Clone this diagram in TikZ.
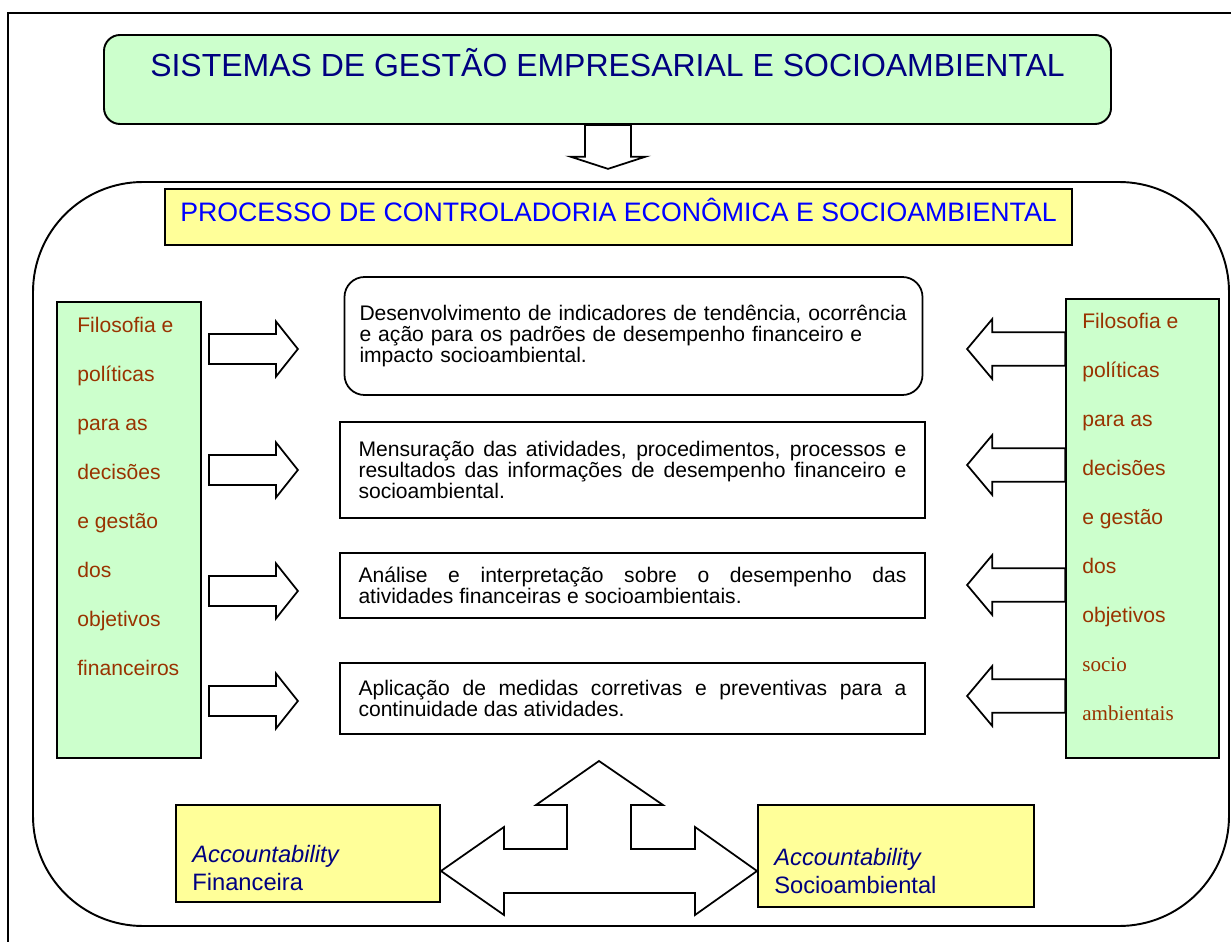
\documentclass[tikz,border=0pt]{standalone}
\usepackage{fontspec}
\setmainfont{Liberation Sans}
\newfontfamily\serifpart{Liberation Serif}
\usetikzlibrary{shapes.arrows}
\newdimen\px
\px=0.02cm
\definecolor{softgreen}{HTML}{CCFFCC}
\definecolor{softyellow}{HTML}{FFFF99}
\definecolor{darkblue}{HTML}{000080}
\definecolor{rust}{HTML}{993300}
\tikzset{ sys_box/.style = {rectangle, rounded corners=16\px, draw, fill=softgreen, line width=1.1pt, inner sep=0pt, text=darkblue, font=\fontsize{18.2}{21}\selectfont} }
\tikzset{ head_box/.style = {rectangle, draw, fill=softyellow, line width=1.1pt, inner sep=0pt, text=blue, font=\fontsize{15.2}{18}\selectfont} }
\tikzset{ side_box/.style = {rectangle, draw, fill=softgreen, line width=1.1pt} }
\tikzset{ side_text/.style = {text=rust, font=\fontsize{12}{27.9}\selectfont, align=left, inner sep=0pt, anchor=north west} }
\tikzset{ step_box/.style = {rectangle, draw, line width=1pt, text width=548\px, inner xsep=18.5\px, align=justify, font=\fontsize{12}{12}\selectfont} }
\tikzset{ acc_box/.style = {rectangle, draw, fill=softyellow, line width=1.1pt} }
\tikzset{ acc_text/.style = {text=darkblue, font=\fontsize{13.5}{16}\selectfont, align=left, inner sep=0pt, anchor=north west} }
\tikzset{ fat_arrow/.style = {single arrow, draw, fill=white, line width=1pt, inner xsep=0pt, anchor=tail} }

\begin{document}
\begin{tikzpicture}[x=0.02cm,y=-0.02cm]
    \useasboundingbox (0,0) rectangle (1231,942);
    \draw[line width=1.1pt] (8,942) -- (8,13) -- (1231,13);
    \node [sys_box, minimum width=1007\px, text height=42\px, text depth=47\px] (sys) at (607.5,79.5) {SISTEMAS DE GESTÃO EMPRESARIAL E SOCIOAMBIENTAL};
    \node [fat_arrow, shape border rotate=270, inner xsep=19\px, inner ysep=0pt, minimum width=75\px, minimum height=44\px, single arrow tip angle=144] (down) at (608,124) {};
    \node [rectangle, rounded corners=110\px, draw, line width=1.1pt, minimum width=1196\px, minimum height=744\px] (proc) at (631,554) {};
    \node [head_box, minimum width=907\px, text height=33\px, text depth=23\px] (head) at (618.5,217) {PROCESSO DE CONTROLADORIA ECONÔMICA E SOCIOAMBIENTAL};

    \node [side_box, minimum width=144\px, minimum height=456\px] (sideL) at (129,530) {};
    \node [side_text] (sideLtext) at (77,316.5) {Filosofia e\\políticas\\para as\\decisões\\e gestão\\dos\\objetivos\\financeiros};
    \node [side_box, minimum width=153\px, minimum height=459\px] (sideR) at (1142.5,528.5) {};
    \node [side_text] (sideRtext) at (1082,312.5) {Filosofia e\\políticas\\para as\\decisões\\e gestão\\dos\\objetivos\\{\serifpart socio}\\{\serifpart ambientais}};

    \node [step_box, rounded corners=20\px, align=left, inner xsep=15\px, minimum height=118\px] (dev) at (633.5,336) {Desenvolvimento de indicadores de tendência, ocorrência\\e ação para os padrões de desempenho financeiro e\\impacto socioambiental.};
    \node [step_box, minimum height=96\px] (mens) at (632.5,470) {Mensuração das atividades, procedimentos, processos e\linebreak resultados das informações de desempenho financeiro e\linebreak socioambiental.};
    \node [step_box, minimum height=65\px] (anal) at (632.5,585.5) {Análise e interpretação sobre o desempenho das\linebreak atividades financeiras e socioambientais.};
    \node [step_box, minimum height=71\px] (apl) at (632.5,698.5) {Aplicação de medidas corretivas e preventivas para a\linebreak continuidade das atividades.};

    \foreach \y in {349,470,591,701}
        \node [fat_arrow, inner ysep=14\px, minimum width=55\px, minimum height=89\px, single arrow tip angle=103] at (208,\y) {};
    \foreach \y in {349,465,585,696}
        \node [fat_arrow, shape border rotate=180, inner ysep=15\px, minimum width=60\px, minimum height=98\px, single arrow tip angle=100] at (1066,\y) {};

    \node [acc_box, minimum width=264\px, minimum height=97\px] (accF) at (308,853.5) {};
    \node [acc_text] (accFtext) at (192,845) {\textit{Accountability}\\Financeira};
    \node [acc_box, minimum width=276\px, minimum height=102\px] (accS) at (896,856) {};
    \node [acc_text] (accStext) at (774,848) {\textit{Accountability}\\Socioambiental};

    \draw[line width=1pt, line join=miter] (accF.east |- 0,871) -- (504,827) -- (504,849) -- (567,849) -- (567,805) -- (536,805) -- (599,761) -- (663,805) -- (631,805) -- (631,849) -- (695,849) -- (695,827) -- (accS.west |- 0,871) -- (695,915) -- (695,893) -- (504,893) -- (504,915) -- cycle;
\end{tikzpicture}
\end{document}
